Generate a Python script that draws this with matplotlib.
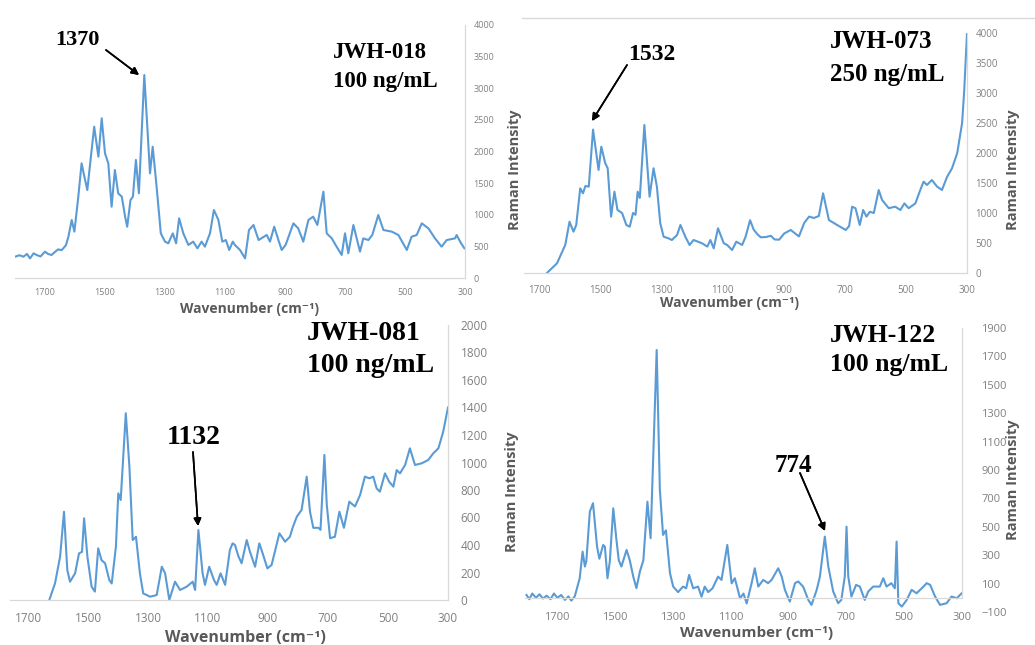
import matplotlib.pyplot as plt
from matplotlib.lines import Line2D

# JWH-018, 100 ng/mL  (wavenumber, intensity)
wn_018 = [1800, 1785, 1772, 1760, 1750, 1738, 1728, 1715, 1700, 1690, 1678, 1665, 1656, 1645,
          1639, 1630, 1622, 1611, 1602, 1589, 1578, 1570, 1559, 1547, 1536, 1522, 1511, 1500,
          1489, 1478, 1467, 1456, 1444, 1433, 1426, 1415, 1407, 1397, 1387, 1369, 1350, 1341,
          1328, 1314, 1300, 1289, 1274, 1263, 1253, 1239, 1222, 1206, 1192, 1178, 1167, 1150,
          1137, 1122, 1109, 1097, 1086, 1074, 1067, 1050, 1033, 1020, 1005, 988, 961, 950,
          936, 922, 911, 898, 872, 856, 839, 822, 806, 792, 772, 761, 744, 728, 711, 700,
          689, 672, 661, 650, 639, 622, 609, 589, 572, 544, 522, 494, 478, 461, 444, 422,
          400, 378, 361, 333, 328, 313, 302]
int_018 = [337, 360, 337, 380, 310, 390, 364, 340, 417, 380, 364, 420, 453, 440,
           469, 520, 653, 917, 733, 1286, 1813, 1630, 1391, 1918, 2392, 1918, 2525, 1970,
           1813, 1127, 1707, 1338, 1286, 970, 811, 1233, 1286, 1866, 1339, 3209, 1655, 2076,
           1444, 706, 575, 548, 706, 548, 943, 706, 522, 575, 469, 575, 495, 706,
           1075, 917, 575, 600, 443, 575, 522, 443, 311, 759, 838, 600, 680, 575,
           811, 600, 443, 522, 864, 785, 575, 917, 970, 838, 1365, 706, 627, 495, 364, 706,
           390, 838, 627, 417, 627, 600, 680, 996, 759, 733, 680, 443, 653, 680, 864, 785,
           627, 495, 600, 627, 680, 548, 469]

# JWH-073, 250 ng/mL
wn_073 = [1675, 1642, 1615, 1601, 1588, 1579, 1566, 1557, 1549, 1538, 1524, 1506, 1497, 1484,
          1476, 1465, 1454, 1444, 1429, 1415, 1404, 1393, 1385, 1378, 1371, 1356, 1347, 1339,
          1326, 1315, 1304, 1293, 1277, 1266, 1249, 1238, 1222, 1208, 1195, 1167, 1150, 1140,
          1129, 1115, 1096, 1085, 1069, 1055, 1036, 1025, 1010, 998, 985, 975, 958, 942,
          930, 915, 898, 877, 850, 833, 817, 801, 785, 771, 752, 725, 697, 686, 676, 665,
          651, 640, 629, 618, 605, 589, 578, 556, 535, 518, 505, 491, 469, 453, 442, 431,
          415, 398, 382, 365, 349, 332, 316, 309, 300]
int_073 = [0, 161, 467, 855, 689, 800, 1411, 1328, 1450, 1439, 2390, 1717, 2105, 1828,
           1745, 939, 1355, 1050, 1000, 800, 772, 1000, 970, 1355, 1250, 2467, 1828, 1272,
           1745, 1439, 828, 605, 578, 550, 633, 800, 605, 467, 550, 495, 440, 550,
           411, 745, 495, 467, 383, 522, 467, 600, 880, 720, 640, 595, 600, 620,
           560, 555, 660, 717, 610, 833, 940, 917, 950, 1328, 883, 800, 717, 780, 1105, 1080,
           800, 1050, 940, 1020, 1000, 1383, 1217, 1080, 1105, 1050, 1160, 1080, 1160, 1383, 1522, 1467,
           1550, 1440, 1383, 1605, 1745, 2000, 2500, 3050, 4000]

# JWH-081, 100 ng/mL
wn_081 = [1629, 1610, 1593, 1580, 1569, 1560, 1543, 1530, 1520, 1513, 1502, 1488, 1477, 1466,
          1455, 1443, 1429, 1421, 1407, 1399, 1391, 1374, 1362, 1351, 1340, 1327, 1316, 1293,
          1271, 1254, 1243, 1229, 1210, 1193, 1171, 1151, 1143, 1132, 1118, 1110, 1096, 1080,
          1071, 1058, 1043, 1027, 1018, 1010, 999, 988, 971, 960, 943, 929, 918, 902,
          888, 862, 843, 827, 818, 804, 788, 771, 760, 749, 732, 725, 712, 704, 693, 677,
          662, 647, 629, 610, 593, 577, 562, 549, 538, 527, 510, 496, 482, 471, 460, 443,
          427, 410, 388, 366, 349, 332, 316, 300]
int_081 = [0, 121, 315, 642, 218, 133, 194, 339, 350, 594, 315, 97, 61, 376,
           290, 267, 145, 120, 388, 776, 727, 1358, 970, 436, 460, 194, 48, 24,
           36, 242, 194, 0, 133, 73, 97, 133, 73, 509, 194, 110, 242, 145,
           110, 194, 110, 364, 412, 400, 320, 267, 436, 350, 242, 412, 340, 230,
           255, 485, 424, 460, 525, 606, 655, 897, 642, 525, 525, 510, 1055, 690, 449, 460,
           642, 525, 715, 680, 764, 897, 885, 897, 812, 788, 921, 860, 824, 945, 921, 982,
           1103, 982, 994, 1018, 1067, 1103, 1224, 1400]

# JWH-122, 100 ng/mL
wn_122 = [1805, 1795, 1785, 1772, 1760, 1748, 1735, 1722, 1710, 1698, 1685, 1672, 1660, 1650,
          1638, 1621, 1611, 1603, 1598, 1586, 1575, 1561, 1553, 1540, 1534, 1525, 1517, 1505,
          1494, 1486, 1477, 1459, 1448, 1436, 1425, 1413, 1401, 1387, 1376, 1355, 1344, 1333,
          1323, 1309, 1298, 1281, 1264, 1253, 1243, 1229, 1212, 1200, 1189, 1177, 1162, 1143,
          1131, 1111, 1096, 1085, 1067, 1055, 1044, 1027, 1016, 1004, 987, 970, 958, 935,
          923, 912, 895, 877, 866, 849, 831, 820, 802, 791, 774, 762, 745, 728, 717, 705,
          699, 693, 682, 666, 653, 636, 624, 607, 584, 572, 561, 544, 532, 526, 520, 508,
          491, 474, 457, 439, 422, 410, 393, 376, 353, 336, 318, 301]
int_122 = [20, -10, 30, 0, 25, -5, 15, -10, 30, 0, 20, -15, 10, -20,
           10, 138, 325, 220, 260, 607, 666, 360, 275, 372, 360, 138, 255, 630,
           407, 265, 220, 337, 265, 150, 68, 185, 265, 677, 420, 1745, 760, 443,
           475, 173, 79, 40, 79, 67, 161, 67, 79, 8, 79, 40, 67, 149,
           126, 372, 102, 138, -3, 30, -40, 103, 208, 79, 126, 103, 126, 208,
           150, 56, -27, 103, 115, 79, -15, -50, 56, 149, 431, 220, 44, -38, -15, 150,
           501, 150, 9, 91, 79, -15, 44, 79, 79, 138, 79, 103, 67, 396, -38, -62,
           -15, 56, 32, 67, 103, 91, 9, -50, -38, 9, -3, 32]

x_ticks = [1700, 1500, 1300, 1100, 900, 700, 500, 300]

W, H = 1035, 645
BLUE = '#5B9BD5'
GRID = '#d9d9d9'
TICK = '#808080'
LABEL = '#595959'
SANS = ['Open Sans', 'DejaVu Sans']
SERIF = 'Liberation Serif'

fig = plt.figure(figsize=(W / 100, H / 100), dpi=100)


def fx(x):
    return x / W


def fy(y):
    return 1 - y / H


def make_panel(box, wn, inten, xlim, ylim, yticks, fs, xpad, ypad, zero_line=False):
    l, t, r, b = box
    ax = fig.add_axes([fx(l), fy(b), (r - l) / W, (b - t) / H])
    ax.patch.set_alpha(0)
    ax.plot(wn, inten, color=BLUE, lw=1.5)
    ax.set_xlim(xlim)
    ax.set_ylim(ylim)
    ax.set_xticks(x_ticks)
    ax.set_yticks(yticks)
    ax.yaxis.tick_right()
    ax.spines['top'].set_visible(False)
    ax.spines['left'].set_visible(False)
    ax.spines['right'].set_color(GRID)
    ax.spines['right'].set_linewidth(0.9)
    if zero_line:
        ax.spines['bottom'].set_visible(False)
        ax.axhline(0, color=GRID, lw=0.9)
        ax.spines['right'].set_bounds(0, ylim[1])
    else:
        ax.spines['bottom'].set_color(GRID)
        ax.spines['bottom'].set_linewidth(0.9)
    ax.tick_params(length=0, labelsize=fs, labelcolor=TICK)
    ax.tick_params(axis='x', pad=xpad)
    ax.tick_params(axis='y', pad=ypad)
    for lab in ax.get_xticklabels() + ax.get_yticklabels():
        lab.set_family(SANS)
    return ax


ax1 = make_panel((15, 25, 465, 278), wn_018, int_018, (1800, 300), (0, 4000),
                 range(0, 4001, 500), 6.5, 7, 6)
ax2 = make_panel((524, 33, 967, 273), wn_073, int_073, (1750, 300), (0, 4000),
                 range(0, 4001, 500), 7, 9, 6)
ax3 = make_panel((10, 325, 448, 600), wn_081, int_081, (1760, 300), (0, 2000),
                 range(0, 2001, 200), 8.5, 9, 9)
ax4 = make_panel((525, 328, 962, 612), wn_122, int_122, (1810, 300), (-100, 1900),
                 range(-100, 1901, 200), 8, 0, 14, zero_line=True)

# axis titles
xlab = 'Wavenumber (cm\u207b\u00b9)'
for x, y, s in [(250, 309, 10), (730, 303, 10), (245, 638, 11.5), (757, 633, 11)]:
    fig.text(fx(x), fy(y), xlab, ha='center', va='center', fontsize=s,
             fontweight='bold', color=LABEL, family=SANS)
for x, y in [(515, 170), (1013, 170), (512, 492), (1013, 480)]:
    fig.text(fx(x), fy(y), 'Raman Intensity', ha='center', va='center', fontsize=10.5,
             fontweight='bold', color=LABEL, family=SANS, rotation=90)

# sample names
for x, y1, y2, name, conc, s in [(333, 53, 82, 'JWH-018', '100 ng/mL', 16.5),
                                 (830, 42, 75, 'JWH-073', '250 ng/mL', 18),
                                 (307, 333, 365, 'JWH-081', '100 ng/mL', 20),
                                 (830, 335, 365, 'JWH-122', '100 ng/mL', 18.5)]:
    fig.text(fx(x), fy(y1), name, ha='left', va='center', fontsize=s,
             fontweight='bold', family=SERIF)
    fig.text(fx(x), fy(y2), conc, ha='left', va='center', fontsize=s,
             fontweight='bold', family=SERIF)

# peak call-outs
for label, (tx, ty), (sx, sy), (hx, hy), s in [
        ('1370', (77, 40), (106, 50), (139, 75), 16),
        ('1532', (652, 55), (627, 65), (592, 121), 17),
        ('1132', (194, 438), (193, 452), (198, 526), 20),
        ('774', (793, 465), (800, 473), (825, 531), 18)]:
    fig.text(fx(tx), fy(ty), label, ha='center', va='center', fontsize=s,
             fontweight='bold', family=SERIF)
    fig.add_artist(plt.annotate('', xy=(fx(hx), fy(hy)), xytext=(fx(sx), fy(sy)),
                                xycoords='figure fraction', textcoords='figure fraction',
                                arrowprops=dict(arrowstyle='-|>', color='black', lw=1.2,
                                                mutation_scale=11, shrinkA=0, shrinkB=0)))

# top border of the JWH-073 chart
fig.add_artist(Line2D([fx(522), fx(1035)], [fy(18), fy(18)], color=GRID, lw=1))

fig.savefig('out.png', dpi=100)
